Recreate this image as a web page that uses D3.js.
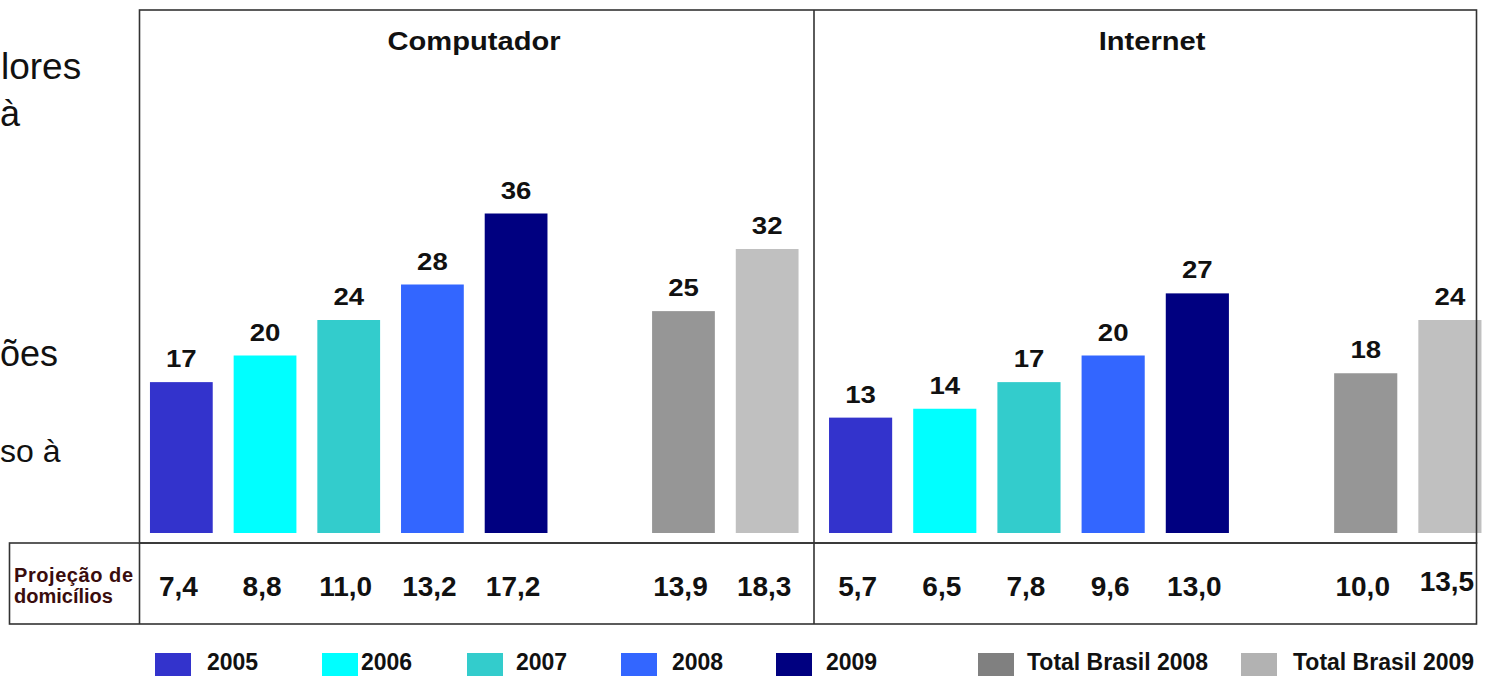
<!DOCTYPE html>
<html>
<head>
<meta charset="utf-8">
<script src="https://cdn.jsdelivr.net/npm/d3@7"></script>
<style>
  body { margin: 0; background: #fff; }
  svg { display: block; font-family: Arial, "Liberation Sans", sans-serif; }
</style>
</head>
<body>
<div id="chart"></div>
<script>
// data
var panels = ["Computador", "Internet"];
var series = ["2005", "2006", "2007", "2008", "2009", "Total Brasil 2008", "Total Brasil 2009"];
var slots = ["2005", "2006", "2007", "2008", "2009", "gap", "Total Brasil 2008", "Total Brasil 2009"];
var computador = [17, 20, 24, 28, 36, 25, 32];
var internet = [13, 14, 17, 20, 27, 18, 24];
var projComputador = ["7,4", "8,8", "11,0", "13,2", "17,2", "13,9", "18,3"];
var projInternet = ["5,7", "6,5", "7,8", "9,6", "13,0", "10,0", "13,5"];
var barColors = ["#3333cc", "#00ffff", "#33cccc", "#3366ff", "#000080", "#969696", "#c0c0c0"];
var legendColors = ["#3333cc", "#00ffff", "#33cccc", "#3366ff", "#000080", "#808080", "#b2b2b2"];
// fragments of the slide text left of the chart (the rest is outside the picture)
var sideText = [
    { t: "lores", x: 1, y: 79, s: 37 },
    { t: "à", x: 0, y: 126, s: 36 },
    { t: "ões", x: 0, y: 366, s: 36 },
    { t: "so à", x: 0, y: 462, s: 32 }
];

var svgWidth = 1490;
var svgHeight = 676;

var svg = d3.select("#chart")
    .append("svg")
    .attr("width", svgWidth)
    .attr("height", svgHeight);

svg.selectAll(".side")
    .data(sideText)
    .enter()
    .append("text")
    .attr("class", "side")
    .attr("x", d => d.x)
    .attr("y", d => d.y)
    .attr("font-size", d => d.s)
    .attr("fill", "#111")
    .text(d => d.t);

// scales
var yScale = d3.scaleLinear()
    .domain([0, 40])
    .range([533, 178]);

var xScales = [
    d3.scaleBand().domain(slots).range([139.5, 809]).paddingInner(0.25).paddingOuter(0.125),
    d3.scaleBand().domain(slots).range([818.5, 1492]).paddingInner(0.25).paddingOuter(0.125)
];
var panelCenters = [474, 1152];
var values = [computador, internet];
var projections = [projComputador, projInternet];

panels.forEach(function (p, pi) {
    var x = xScales[pi];
    var rows = series.map((s, i) => ({ s: s, v: values[pi][i], proj: projections[pi][i], c: barColors[i] }));

    var g = svg.append("g");

    g.selectAll("rect")
        .data(rows)
        .enter()
        .append("rect")
        .attr("x", d => x(d.s))
        .attr("width", x.bandwidth())
        .attr("y", d => yScale(d.v))
        .attr("height", d => yScale(0) - yScale(d.v))
        .attr("fill", d => d.c);

    // value labels above bars
    g.selectAll(".val")
        .data(rows)
        .enter()
        .append("text")
        .attr("class", "val")
        .attr("transform", d => `translate(${x(d.s) + x.bandwidth() / 2},${yScale(d.v) - 15}) scale(1.15,1)`)
        .attr("text-anchor", "middle")
        .attr("font-size", 24)
        .attr("font-weight", "bold")
        .attr("fill", "#111")
        .text(d => d.v);

    // projection row
    g.selectAll(".proj")
        .data(rows)
        .enter()
        .append("text")
        .attr("class", "proj")
        .attr("x", d => x(d.s) + x.bandwidth() / 2 - 3)
        .attr("y", (d, i) => (pi == 1 && i == 6) ? 591 : 596)
        .attr("text-anchor", "middle")
        .attr("font-size", 28)
        .attr("font-weight", "bold")
        .attr("fill", "#111")
        .text(d => d.proj);

    // panel title
    svg.append("text")
        .attr("transform", `translate(${panelCenters[pi]},50) scale(1.12,1)`)
        .attr("text-anchor", "middle")
        .attr("font-size", 26)
        .attr("font-weight", "bold")
        .attr("fill", "#111")
        .text(p);
});

// frame and table lines
var lineColor = "#333";
var frame = svg.append("g")
    .attr("fill", "none")
    .attr("stroke", lineColor)
    .attr("stroke-width", 1.6);

frame.append("rect").attr("x", 139.5).attr("y", 10).attr("width", 1337).attr("height", 533);
frame.append("rect").attr("x", 9.5).attr("y", 543).attr("width", 1467).attr("height", 81);
frame.append("line").attr("x1", 814).attr("x2", 814).attr("y1", 10).attr("y2", 624);
frame.append("line").attr("x1", 139.5).attr("x2", 139.5).attr("y1", 543).attr("y2", 624);

var proj = svg.append("g").attr("fill", "#3a0d0d").attr("font-weight", "bold").attr("font-size", 20);
proj.append("text").attr("x", 14).attr("y", 582).attr("textLength", 119).text("Projeção de");
proj.append("text").attr("x", 14).attr("y", 603).text("domicílios");

// legend
var legendX = [155, 322, 467, 621, 776, 978, 1241];
var legendTextX = [207, 361, 516, 672, 826, 1027, 1293];
var legend = svg.selectAll(".leg")
    .data(series)
    .enter()
    .append("g")
    .attr("class", "leg");

legend.append("rect")
    .attr("x", (d, i) => legendX[i])
    .attr("y", 653)
    .attr("width", 36)
    .attr("height", 26)
    .attr("fill", (d, i) => legendColors[i]);

legend.append("text")
    .attr("x", (d, i) => legendTextX[i])
    .attr("y", 670)
    .attr("font-size", 23)
    .attr("font-weight", "bold")
    .attr("fill", "#111")
    .text(d => d);
</script>
</body>
</html>
